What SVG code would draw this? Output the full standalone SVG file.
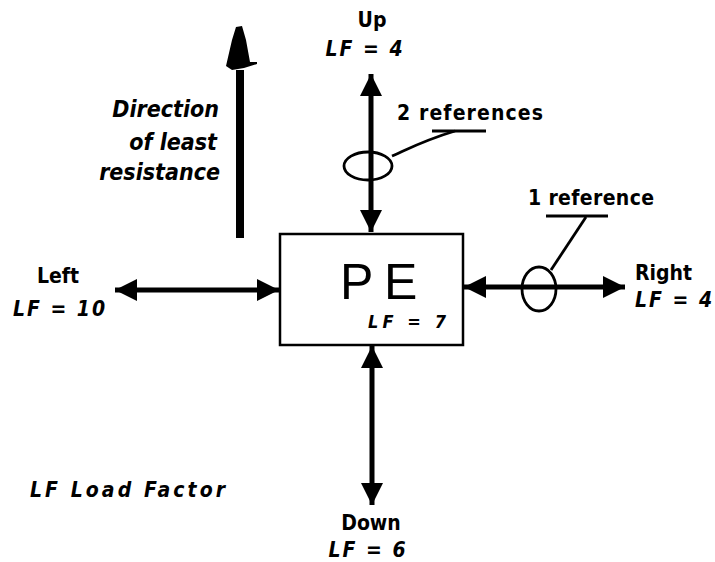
<svg xmlns="http://www.w3.org/2000/svg" width="715" height="562" viewBox="0 0 715 562">
<defs>
<marker id="ah" viewBox="0 0 10 10" refX="10" refY="5" markerWidth="5" markerHeight="4.4" orient="auto-start-reverse" markerUnits="strokeWidth">
<path d="M0,0 L10,5 L0,10 Z" fill="#000"/>
</marker>
<style>
.b{font-family:"DejaVu Sans Condensed","DejaVu Sans",sans-serif;font-weight:bold;fill:#000}
.i{font-family:"DejaVu Sans Condensed","DejaVu Sans",sans-serif;font-style:italic;font-weight:bold;fill:#000}
.c{stroke:#000;stroke-width:5;fill:none}
.t{stroke:#000;stroke-width:2.8;fill:none}
</style>
</defs>
<rect width="715" height="562" fill="#fff"/>
<g id="connectors">
<line class="c" x1="371" y1="74" x2="371" y2="232" marker-start="url(#ah)" marker-end="url(#ah)"/>
<line class="c" x1="115" y1="290" x2="279" y2="290" marker-start="url(#ah)" marker-end="url(#ah)"/>
<line class="c" x1="464" y1="287" x2="625" y2="287" marker-start="url(#ah)" marker-end="url(#ah)"/>
<line class="c" x1="372" y1="346" x2="372" y2="505" marker-start="url(#ah)" marker-end="url(#ah)"/>
</g>
<g id="direction">
<path d="M236,238 L236,70 L244,70 L244,238 Z" fill="#000"/>
<path d="M226,66 L232,40 L236,27 L242,26 L246,40 L250,62 L257,62 L257,64 L244,68 L232,70 Z" fill="#000"/>
<text class="i" font-size="23" text-anchor="end" x="219" y="117">Direction</text>
<text class="i" font-size="23" text-anchor="end" x="217" y="150">of least</text>
<text class="i" font-size="23" text-anchor="end" x="220" y="180">resistance</text>
</g>
<g id="pe">
<rect x="280" y="234" width="183" height="111" fill="#fff" stroke="#000" stroke-width="2.5"/>
<text x="340" y="299" font-family="Liberation Sans,Arial,sans-serif" font-size="50" fill="#000">P</text>
<text x="384" y="299" font-family="Liberation Sans,Arial,sans-serif" font-size="50" fill="#000">E</text>
<text class="i" font-size="18" x="368" y="328" textLength="78">LF = 7</text>
</g>
<g id="up">
<text class="b" font-size="21" text-anchor="middle" x="372" y="27">Up</text>
<text class="i" font-size="21" text-anchor="middle" x="365" y="56" letter-spacing="2">LF = 4</text>
</g>
<g id="left">
<text class="b" font-size="21" text-anchor="middle" x="58" y="283">Left</text>
<text class="i" font-size="21" text-anchor="middle" x="60" y="316" letter-spacing="2">LF = 10</text>
</g>
<g id="right">
<text class="b" font-size="21" x="635" y="280">Right</text>
<text class="i" font-size="21" x="635" y="307" letter-spacing="2">LF = 4</text>
</g>
<g id="down">
<text class="b" font-size="21" text-anchor="middle" x="371" y="530">Down</text>
<text class="i" font-size="21" text-anchor="middle" x="368" y="557" letter-spacing="2">LF = 6</text>
</g>
<g id="refs2">
<ellipse class="t" cx="368" cy="166" rx="24" ry="14"/>
<path class="t" d="M392,156 C410,148 425,140 455,131"/>
<line class="t" x1="432" y1="131" x2="486" y2="131"/>
<text class="b" font-size="21" x="397" y="120" textLength="146">2 references</text>
</g>
<g id="refs1">
<ellipse class="t" cx="539" cy="289" rx="17" ry="22"/>
<line class="t" x1="551" y1="270" x2="586" y2="217"/>
<line class="t" x1="546" y1="216" x2="608" y2="216"/>
<text class="b" font-size="21" x="528" y="205" textLength="126">1 reference</text>
</g>
<g id="legend">
<text class="i" font-size="21" x="30" y="497" textLength="195">LF  Load Factor</text>
</g>
</svg>
